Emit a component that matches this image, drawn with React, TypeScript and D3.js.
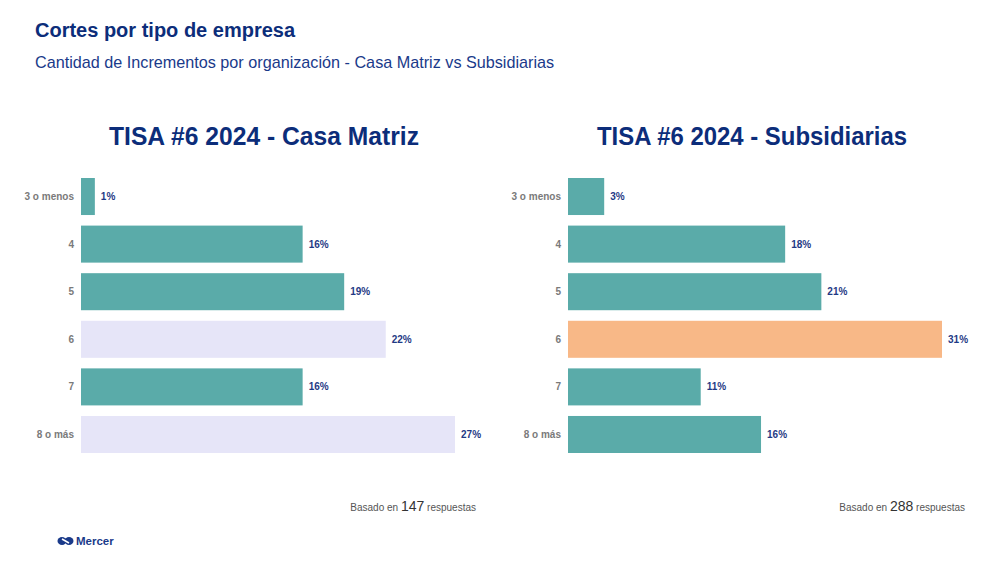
import { scaleBand, scaleLinear } from 'd3'

const categories = ['3 o menos', '4', '5', '6', '7', '8 o más']
const casaMatriz = [1, 16, 19, 22, 16, 27]
const subsidiarias = [3, 18, 21, 31, 11, 16]
const casaMatrizColors = ['#5aaba9', '#5aaba9', '#5aaba9', '#e6e5f8', '#5aaba9', '#e6e5f8']
const subsidiariasColors = ['#5aaba9', '#5aaba9', '#5aaba9', '#f8b887', '#5aaba9', '#5aaba9']

const navy = '#0c2d7a'
const font = 'Arial, "Liberation Sans", sans-serif'

type PanelProps = {
  title: string
  titleX: number
  x0: number
  values: number[]
  colors: string[]
  respuestas: number
  noteX: number
}

function Panel({ title, titleX, x0, values, colors, respuestas, noteX }: PanelProps) {
  const maxWidth = 374
  const x = scaleLinear().domain([0, Math.max(...values)]).range([x0, x0 + maxWidth])
  const y = scaleBand().domain(categories).range([178, 453]).paddingInner(0.222)

  return (
    <g>
      <text x={titleX} y={145} textAnchor="middle" fontSize={25} fontWeight="bold" fill={navy}
        fontFamily={'"Liberation Sans Narrow", "Arial Narrow", Arial, sans-serif'}
        textLength={310} lengthAdjust="spacingAndGlyphs">{title}</text>
      {categories.map((c, i) => (
        <g key={c}>
          <rect x={x(0)} y={y(c)} width={x(values[i]) - x(0)} height={y.bandwidth()} fill={colors[i]} />
          <text x={x0 - 7} y={(y(c) ?? 0) + y.bandwidth() / 2} dy="0.35em" textAnchor="end"
            fontSize={10} fontWeight="bold" fill="#7a7a7a" fontFamily={font}>{c}</text>
          <text x={x(values[i]) + 6} y={(y(c) ?? 0) + y.bandwidth() / 2} dy="0.35em"
            fontSize={10} fontWeight="bold" fill="#1f3a85" fontFamily={font}>{values[i]}%</text>
        </g>
      ))}
      <text x={noteX} y={511} textAnchor="end" fontSize={10} fill="#555" fontFamily={font}>
        Basado en <tspan fontSize={14} fill="#333">{respuestas}</tspan> respuestas
      </text>
    </g>
  )
}

function App() {
  const width = 997
  const height = 563

  return (
    <div style={{ position: 'absolute', left: 0, top: 0 }}>
      <svg width={width} height={height} style={{ display: 'block', background: '#fff' }}>
        <text x={35} y={37} fontSize={20} fontWeight="bold" fill={navy} fontFamily={font}>
          Cortes por tipo de empresa
        </text>
        <text x={35} y={68} fontSize={16.2} fill="#1a3a8a" fontFamily={font}>
          Cantidad de Incrementos por organización - Casa Matriz vs Subsidiarias
        </text>

        <Panel title="TISA #6 2024 - Casa Matriz" titleX={264} x0={81}
          values={casaMatriz} colors={casaMatrizColors} respuestas={147} noteX={476} />
        <Panel title="TISA #6 2024 - Subsidiarias" titleX={752} x0={568}
          values={subsidiarias} colors={subsidiariasColors} respuestas={288} noteX={965} />

        <g transform="translate(58,541)">
          <ellipse cx={4} cy={0} rx={4.5} ry={4} fill="#1a3a8a" />
          <ellipse cx={11} cy={0} rx={4.5} ry={4} fill="#1a3a8a" />
          <path d="M4,-2 L11,2" stroke="#fff" strokeWidth={1.5} />
          <text x={18} y={4} fontSize={11.5} fontWeight="bold" fill="#1a3a8a" fontFamily={font}>Mercer</text>
        </g>
      </svg>
    </div>
  )
}

export default App
